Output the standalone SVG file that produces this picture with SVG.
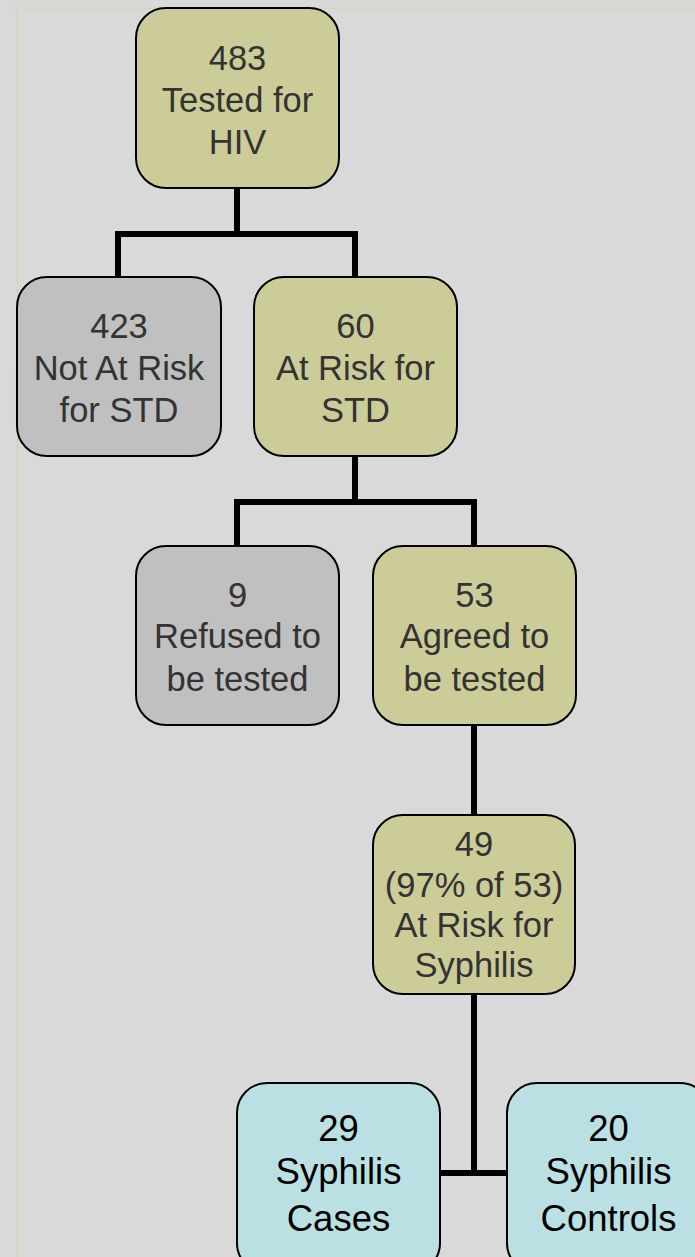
<svg xmlns="http://www.w3.org/2000/svg" width="695" height="1257" viewBox="0 0 695 1257">
<style>
.bx{stroke:#000;stroke-width:2}
.y{fill:#cccc99}
.g{fill:#c0c0c0}
.c{fill:#bbe0e3}
.t{font-family:"Liberation Sans",Arial,sans-serif;font-size:34.5px;fill:#333;text-anchor:middle}
.tc{font-family:"Liberation Sans",Arial,sans-serif;font-size:36.5px;fill:#000;text-anchor:middle}
.ln{fill:none;stroke:#000;stroke-width:6;stroke-linecap:butt;stroke-linejoin:miter}
</style>
<rect width="695" height="1257" fill="#d9d9d9"/>
<path d="M13 8H695M17.5 8V1257" fill="none" stroke="#d2d2a8" stroke-width="1"/>
<g id="connectors">
<path class="ln" d="M237 188V234M118 277V234H355V277"/>
<path class="ln" d="M355 456V502M237 546V502H474V546"/>
<path class="ln" d="M474 725V815"/>
<path class="ln" d="M474 994V1173M440 1173H507"/>
</g>
<g id="n483"><rect class="bx y" x="136" y="8" width="203" height="180" rx="30"/>
<text class="t"><tspan x="237.5" y="70">483</tspan><tspan x="237.5" y="112">Tested for</tspan><tspan x="237.5" y="154">HIV</tspan></text></g>
<g id="n423"><rect class="bx g" x="17" y="277" width="204" height="179" rx="30"/>
<text class="t"><tspan x="119" y="338">423</tspan><tspan x="119" y="380">Not At Risk</tspan><tspan x="119" y="422">for STD</tspan></text></g>
<g id="n60"><rect class="bx y" x="254" y="277" width="203" height="179" rx="30"/>
<text class="t"><tspan x="355.5" y="338">60</tspan><tspan x="355.5" y="380">At Risk for</tspan><tspan x="355.5" y="422">STD</tspan></text></g>
<g id="n9"><rect class="bx g" x="136" y="546" width="203" height="179" rx="30"/>
<text class="t"><tspan x="237.5" y="607">9</tspan><tspan x="237.5" y="648">Refused to</tspan><tspan x="237.5" y="691">be tested</tspan></text></g>
<g id="n53"><rect class="bx y" x="373" y="546" width="203" height="179" rx="30"/>
<text class="t"><tspan x="474.5" y="607">53</tspan><tspan x="474.5" y="648">Agreed to</tspan><tspan x="474.5" y="691">be tested</tspan></text></g>
<g id="n49"><rect class="bx y" x="373" y="815" width="202" height="179" rx="30"/>
<text class="t"><tspan x="474" y="856">49</tspan><tspan x="474" y="897">(97% of 53)</tspan><tspan x="474" y="937">At Risk for</tspan><tspan x="474" y="977">Syphilis</tspan></text></g>
<g id="n29"><rect class="bx c" x="237" y="1083" width="203" height="190" rx="30"/>
<text class="tc"><tspan x="338.5" y="1141">29</tspan><tspan x="338.5" y="1184">Syphilis</tspan><tspan x="338.5" y="1231">Cases</tspan></text></g>
<g id="n20"><rect class="bx c" x="507" y="1083" width="203" height="190" rx="30"/>
<text class="tc"><tspan x="608.5" y="1141">20</tspan><tspan x="608.5" y="1184">Syphilis</tspan><tspan x="608.5" y="1231">Controls</tspan></text></g>
</svg>
